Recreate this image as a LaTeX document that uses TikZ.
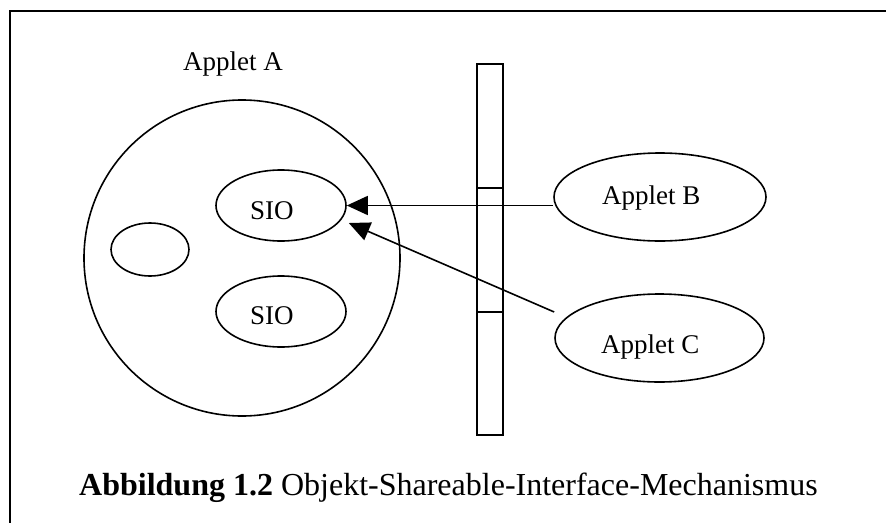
\documentclass[tikz,border=0pt]{standalone}
\usepackage{fontspec}
\setmainfont{Liberation Serif}
\usetikzlibrary{shapes.geometric,arrows.meta}
\begin{document}
\begin{tikzpicture}[x=1pt,y=-1pt,
  shapeline/.style={draw=black, line width=1.6pt},
  oval/.style={shapeline, ellipse, inner sep=0pt},
  lbl/.style={anchor=base west, inner sep=0pt, font=\fontsize{27}{32}\selectfont},
  link/.style={line width=1.6pt, -{Triangle[length=21pt,width=19pt]}}]
\useasboundingbox (0,0) rectangle (886,522);
\clip (0,0) rectangle (886,522);
% frame (only the top and left edges lie inside the page)
\draw[line width=2.2pt] (10,540) -- (10,11) -- (900,11);

% Applet A with its objects
\node[shapeline, circle, inner sep=0pt, minimum size=316pt] (appA) at (242,258) {};
\node[oval, minimum width=130pt, minimum height=71pt] (sioA) at (281,205.5) {};
\node[oval, minimum width=130pt, minimum height=71pt] (sioB) at (281,311.5) {};
\node[oval, minimum width=78pt, minimum height=53pt] (obj) at (150,249.5) {};

% firewall
\node[draw, line width=2pt, inner sep=0pt, minimum width=26pt, minimum height=371pt] (wall) at (490,249.5) {};
\coordinate (d1) at (490,188);
\coordinate (d2) at (490,312);
\draw[line width=1.8pt] (wall.west |- d1) -- (wall.east |- d1);
\draw[line width=1.8pt] (wall.west |- d2) -- (wall.east |- d2);

% other applets
\node[oval, minimum width=212pt, minimum height=88pt] (appB) at (660,197) {};
\node[oval, minimum width=209pt, minimum height=88pt] (appC) at (659.5,338) {};

% accesses to the shareable interface object
\draw[link] (sioA.east -| appB.west) -- (sioA.east);
\coordinate (cfoot) at ([yshift=26pt]appC.west);
\coordinate (ctip) at ([shift={(2,17.5)}]sioA.east);
\draw[link] (cfoot) -- (ctip);

% texts
\node[lbl] (tA) at (183,70) {Applet A};
\node[lbl] (t1) at (250,219) {SIO};
\node[lbl] (t2) at (250,324) {SIO};
\node[lbl] (tB) at (602,204) {Applet B};
\node[lbl] (tC) at (601,353) {Applet C};
\node[anchor=base west, inner sep=0pt, font=\fontsize{32}{38}\selectfont] (cap) at (79,495)
  {\textbf{Abbildung 1.2} Objekt-Shareable-Interface-Mechanismus};
\end{tikzpicture}
\end{document}
